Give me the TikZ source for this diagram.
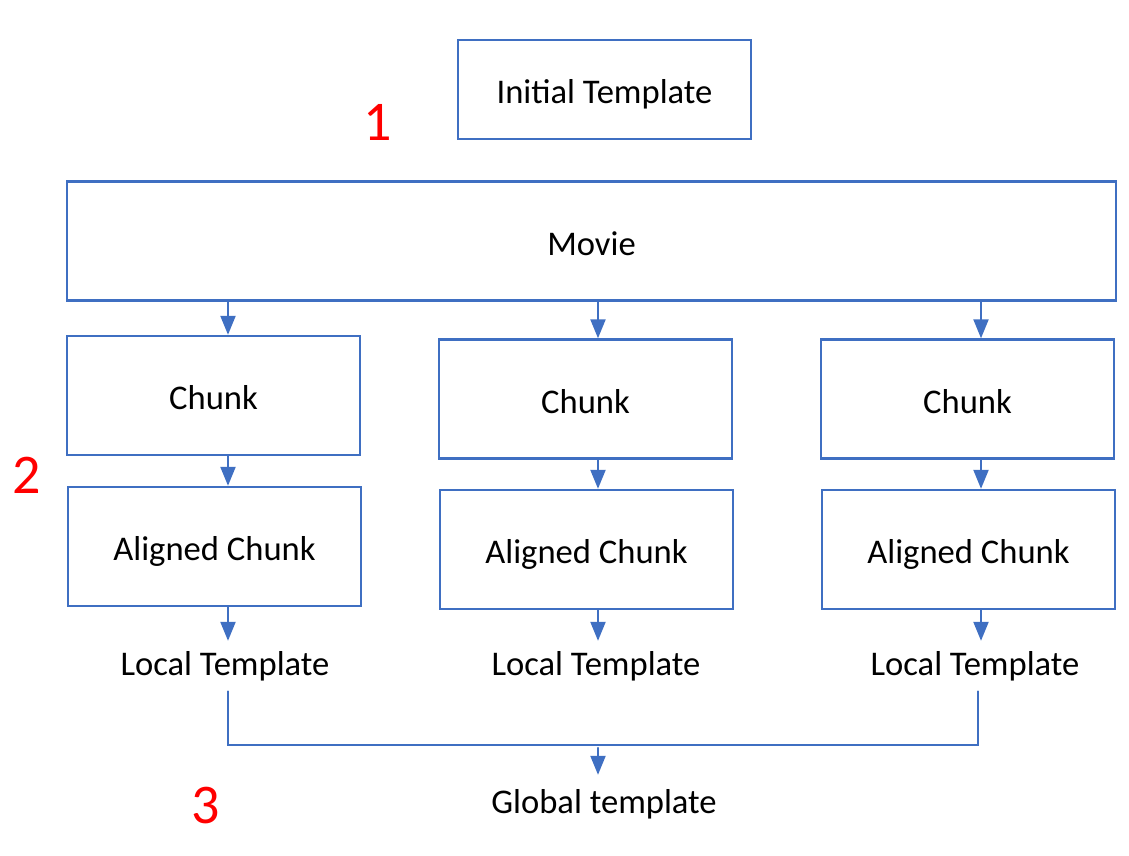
\documentclass[tikz,border=0pt]{standalone}
\usepackage{fontspec}
\setmainfont{Carlito}
\usetikzlibrary{arrows.meta}
\definecolor{boxblue}{HTML}{3F6FC2}
\begin{document}
\begin{tikzpicture}[x=0.5pt,y=-0.5pt,line cap=round,
	box/.style={draw=boxblue,line width=1.2pt,minimum width=146.5pt,minimum height=59.5pt,inner sep=0pt,text height=14pt,text depth=0pt,font=\fontsize{17.3}{20}\selectfont},
	lbl/.style={inner sep=5pt,font=\fontsize{17.3}{20}\selectfont},
	num/.style={inner sep=0pt,text=red,font=\fontsize{28}{32}\selectfont},
	arr/.style={draw=boxblue,line width=1.1pt,-{Triangle[width=7.5pt,length=9.5pt]}},
	link/.style={draw=boxblue,line width=0.8pt}]
	\useasboundingbox (0,0) rectangle (1129,856);
	
	% kopf
	\node[box,minimum height=49.5pt] (init) at (604.5,89.5) {Initial Template};
	\node[box,minimum width=524.5pt] (movie) at (591.5,241) {Movie};
	
	% spalten
	\node[box] (ch1) at (213.5,395.5) {Chunk};
	\node[box] (ch2) at (585.5,399) {Chunk};
	\node[box] (ch3) at (967.5,399) {Chunk};
	\node[box] (al1) at (214.5,546.5) {Aligned Chunk};
	\node[box] (al2) at (586.5,549.5) {Aligned Chunk};
	\node[box] (al3) at (968.5,549.5) {Aligned Chunk};
	\node[lbl] (lt1) at (225,666) {Local Template};
	\node[lbl] (lt2) at (596,666) {Local Template};
	\node[lbl] (lt3) at (975,666) {Local Template};
	\node[lbl] (glob) at (604,804) {Global template};
	
	% nummern
	\node[num] (n1) at (378,122) {1};
	\node[num] (n2) at (27,475) {2};
	\node[num] (n3) at (206,806) {3};
	
	\coordinate (a1) at (228,0);
	\coordinate (a2) at (598,0);
	\coordinate (a3) at (981,0);
	\coordinate (b3) at (978,0);
	\coordinate (bar) at (598,745);
	
	% pfeile
	\draw[arr] (movie.south -| a1) -- (ch1.north -| a1);
	\draw[arr] (movie.south -| a2) -- (ch2.north -| a2);
	\draw[arr] (movie.south -| a3) -- (ch3.north -| a3);
	\draw[arr] (ch1.south -| a1) -- (al1.north -| a1);
	\draw[arr] (ch2.south -| a2) -- (al2.north -| a2);
	\draw[arr] (ch3.south -| a3) -- (al3.north -| a3);
	\draw[arr] (al1.south -| a1) -- (lt1.north -| a1);
	\draw[arr] (al2.south -| a2) -- (lt2.north -| a2);
	\draw[arr] (al3.south -| a3) -- (lt3.north -| a3);
	
	% klammer
	\draw[link] (lt1.south -| a1) |- (bar) -| (lt3.south -| b3);
	\draw[arr] ([yshift=-1.5pt]bar) -- ([yshift=2pt]glob.north -| bar);
\end{tikzpicture}
\end{document}
